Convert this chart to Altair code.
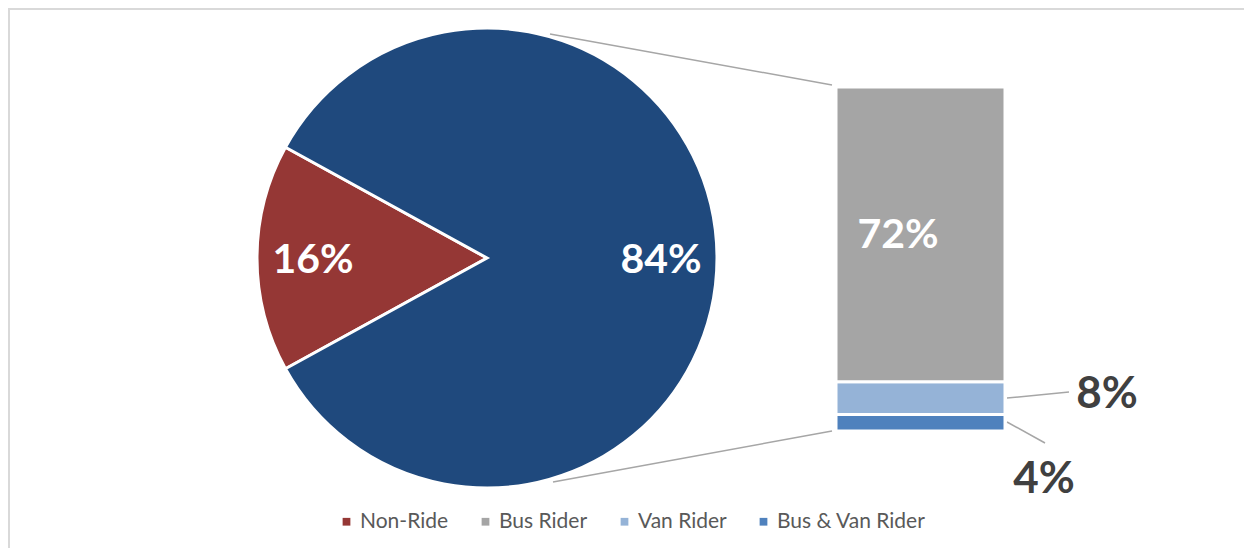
import math
import altair as alt
import pandas as pd

# ---- data ----
pie_categories = ["Non-Ride", "Ride"]
pie_values = [16, 84]
bar_categories = ["Bus Rider", "Van Rider", "Bus & Van Rider"]
bar_values = [72, 8, 4]
legend_categories = ["Non-Ride", "Bus Rider", "Van Rider", "Bus & Van Rider"]

color_domain = ["Non-Ride", "Bus Rider", "Van Rider", "Bus & Van Rider", "Ride"]
color_range = ["#953735", "#A5A5A5", "#95B3D7", "#4F81BD", "#1F497D"]

# ---- tables ----
tot = sum(pie_values)
t0, pie_rows = 0, []
for c, v in zip(pie_categories, pie_values):
    pie_rows.append({"cat": c, "t0": t0, "t1": t0 + v, "tm": t0 + v / 2, "label": f"{v}%"})
    t0 += v
pie_df = pd.DataFrame(pie_rows)

# stack bar from bottom (last category at bottom)
y0, bar_rows = 0, []
for c, v in reversed(list(zip(bar_categories, bar_values))):
    bar_rows.append({"cat": c, "y0": y0, "y1": y0 + v, "ym": y0 + v / 2, "label": f"{v}%"})
    y0 += v
bar_df = pd.DataFrame(bar_rows)
bar_total = y0

# ---- layout (plot coords) ----
W, H = 1236, 540
CX, CY, R = 479, 250, 230
start = math.radians(270 - 16 / 2 * 360 / 100)
theta_scale = alt.Scale(domain=[0, tot], range=[start, start + 2 * math.pi])
y_scale = alt.Scale(domain=[0, bar_total], range=[423, 79])
color_scale = alt.Scale(domain=color_domain, range=color_range)

legend = alt.Legend(
    values=legend_categories, title=None, orient="none", direction="horizontal",
    legendX=328, legendY=503, symbolType="square", symbolSize=60,
    symbolStrokeWidth=0, labelFont="Lato", labelFontSize=21, labelColor="#595959",
    columnPadding=26, labelOffset=3,
)

pie = alt.Chart(pie_df).mark_arc(outerRadius=R, stroke="white", strokeWidth=3).encode(
    theta=alt.Theta("t0:Q", scale=theta_scale),
    theta2="t1:Q",
    x=alt.value(CX), y=alt.value(CY),
    color=alt.Color("cat:N", scale=color_scale, legend=legend),
)

pie_text = alt.Chart(pie_df).mark_text(
    radius=174, font="Lato", fontWeight="bold", fontSize=41, color="white", dy=3
).encode(
    theta=alt.Theta("tm:Q", scale=theta_scale),
    x=alt.value(CX), y=alt.value(CY),
    text="label:N",
)

bar = alt.Chart(bar_df).mark_rect(stroke="white", strokeWidth=3).encode(
    x=alt.value(828), x2=alt.value(997),
    y=alt.Y("y0:Q", scale=y_scale, axis=None),
    y2="y1:Q",
    color=alt.Color("cat:N", scale=color_scale, legend=legend),
)

bar_text_in = alt.Chart(bar_df).transform_filter(alt.datum.cat == "Bus Rider").mark_text(
    font="Lato", fontWeight="bold", fontSize=41, color="white", dy=2
).encode(x=alt.value(890), y=alt.Y("ym:Q", scale=y_scale, axis=None), text="label:N")

bar_text_van = alt.Chart(bar_df).transform_filter(alt.datum.cat == "Van Rider").mark_text(
    font="Lato", fontWeight="bold", fontSize=44, color="#404040", dy=-3
).encode(x=alt.value(1099), y=alt.Y("ym:Q", scale=y_scale, axis=None), text="label:N")

bar_text_both = alt.Chart(bar_df).transform_filter(alt.datum.cat == "Bus & Van Rider").mark_text(
    font="Lato", fontWeight="bold", fontSize=44, color="#404040", dy=57
).encode(x=alt.value(1036), y=alt.Y("ym:Q", scale=y_scale, axis=None), text="label:N")

def seg(x1, y1, x2, y2, color="#A6A6A6", width=1.5):
    return alt.Chart(pd.DataFrame({"k": [0]})).mark_rule(color=color, strokeWidth=width).encode(
        x=alt.value(x1), y=alt.value(y1), x2=alt.value(x2), y2=alt.value(y2)
    )

connectors = [
    seg(542, 26, 824, 77),
    seg(545, 474, 824, 423),
    seg(999, 390, 1061, 384),
    seg(999, 414, 1037, 435),
]
border = [
    seg(0, 1, W, 1, "#D9D9D9", 2),
    seg(1, 0, 1, H, "#D9D9D9", 2),
]

chart = alt.layer(
    *border, pie, pie_text, *connectors, bar, bar_text_in, bar_text_van, bar_text_both
).properties(
    width=W, height=H, autosize=alt.AutoSizeParams(type="none"), padding=0
).configure_view(stroke=None)

chart.save("out.html", embed_options={"renderer": "svg", "actions": False})
